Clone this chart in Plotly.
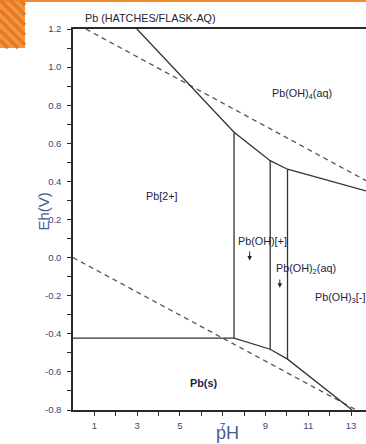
import plotly.graph_objects as go

# ---------------- data ----------------
# upper solid boundary (Pb2+ / Pb(OH)n species vs Pb(OH)4(aq))
upper_ph = [2.99, 7.53, 9.22, 10.03, 13.7]
upper_eh = [1.20, 0.658, 0.509, 0.464, 0.350]
# lower solid boundary (dissolved Pb vs Pb(s))
lower_ph = [0.0, 7.53, 9.22, 10.03, 13.05]
lower_eh = [-0.423, -0.423, -0.481, -0.533, -0.800]
# vertical boundaries between dissolved species
vert_ph = [7.53, 9.22, 10.03]
vert_top = [0.658, 0.509, 0.464]
vert_bot = [-0.423, -0.481, -0.533]
# water stability limits (dashed)
o2_ph = [0.6, 13.7]
o2_eh = [1.20, 0.404]
h2_ph = [0.0, 13.25]
h2_eh = [0.0, -0.80]

# region labels
label_text = ["Pb(OH)<sub>4</sub>(aq)", "Pb[2+]", "Pb(OH)[+]",
              "Pb(OH)<sub>2</sub>(aq)", "Pb(OH)<sub>3</sub>[-]", "<b>Pb(s)</b>"]
label_ph = [10.71, 4.14, 7.64, 9.38, 11.22, 6.08]
label_eh = [0.859, 0.323, 0.087, -0.061, -0.212, -0.658]
label_anchor = ["center", "center", "left", "left", "left", "center"]
# small arrows under labels (tail -> head)
arrow_ph = [8.26, 9.67]
arrow_tail = [0.040, -0.107]
arrow_head = [-0.015, -0.158]

# ticks
x_tick_vals = [1, 3, 5, 7, 9, 11, 13]
x_tick_text = ["1", "3", "5", "7", "9", "11", "13"]
x_minor_vals = [2, 4, 6, 8, 10, 12]
y_tick_vals = [-0.8, -0.6, -0.4, -0.2, 0.0, 0.2, 0.4, 0.6, 0.8, 1.0, 1.2]
y_tick_text = ["-0.8", "-0.6", "-0.4", "-0.2", "0.0", "0.2", "0.4", "0.6", "0.8", "1.0", "1.2"]

title_text = "Pb (HATCHES/FLASK-AQ)"
x_title = "pH"
y_title = "Eh(V)"

# ---------------- figure ----------------
W, H = 366, 444
ML, MR, MT, MB = 73, 0, 29, 34
PW, PH = W - ML - MR, H - MT - MB
FONT = "Liberation Sans, Arial, sans-serif"
LINE = "#333333"
TICKC = "#34467a"

def px2paper(px, py):
    return (px - ML) / PW, (H - MB - py) / PH

fig = go.Figure()

fig.add_trace(go.Scatter(x=o2_ph, y=o2_eh, mode="lines",
                         line=dict(color="#555555", width=1.3, dash="5px,4px"),
                         hoverinfo="skip", showlegend=False))
fig.add_trace(go.Scatter(x=h2_ph, y=h2_eh, mode="lines",
                         line=dict(color="#555555", width=1.3, dash="5px,4px"),
                         hoverinfo="skip", showlegend=False))
fig.add_trace(go.Scatter(x=upper_ph, y=upper_eh, mode="lines",
                         line=dict(color=LINE, width=1.3),
                         hoverinfo="skip", showlegend=False))
fig.add_trace(go.Scatter(x=lower_ph, y=lower_eh, mode="lines",
                         line=dict(color=LINE, width=1.3),
                         hoverinfo="skip", showlegend=False))
for xv, yt, yb in zip(vert_ph, vert_top, vert_bot):
    fig.add_trace(go.Scatter(x=[xv, xv], y=[yt, yb], mode="lines",
                             line=dict(color=LINE, width=1.3),
                             hoverinfo="skip", showlegend=False))

annotations = []
for t, xv, yv, a in zip(label_text, label_ph, label_eh, label_anchor):
    annotations.append(dict(x=xv, y=yv, xref="x", yref="y", text=t, showarrow=False,
                            xanchor=a, yanchor="middle",
                            font=dict(family=FONT, size=10.8, color="#1e2244")))
for xv, yt, yh in zip(arrow_ph, arrow_tail, arrow_head):
    annotations.append(dict(x=xv, y=yh, ax=xv, ay=yt, xref="x", yref="y",
                            axref="x", ayref="y", text="", showarrow=True,
                            arrowhead=2, arrowsize=0.9, arrowwidth=1, arrowcolor="#222222"))

# title and axis titles
tx, ty = px2paper(83, 18)
annotations.append(dict(x=tx, y=ty, xref="paper", yref="paper", text=title_text,
                        showarrow=False, xanchor="left", yanchor="middle",
                        font=dict(family=FONT, size=10.8, color="#222233")))
ex, ey = px2paper(42.5, 212)
annotations.append(dict(x=ex, y=ey, xref="paper", yref="paper", text=y_title,
                        showarrow=False, xanchor="center", yanchor="middle", textangle=-90,
                        font=dict(family=FONT, size=15, color="#4a5c8c")))
phx, phy = px2paper(227, 433)
annotations.append(dict(x=phx, y=phy, xref="paper", yref="paper", text=x_title,
                        showarrow=False, xanchor="center", yanchor="middle",
                        font=dict(family=FONT, size=18, color="#4a5c8c")))

# decorative orange hatched corner and top band
shapes = []
x0, y0 = px2paper(0, 0)
x1, y1 = px2paper(25, 48)
shapes.append(dict(type="rect", xref="paper", yref="paper", x0=x0, x1=x1, y0=y1, y1=y0,
                   fillcolor="#F5943E", line=dict(width=0), layer="above"))
bx0, by0 = px2paper(0, 0)
bx1, by1 = px2paper(W, 2)
shapes.append(dict(type="rect", xref="paper", yref="paper", x0=bx0, x1=bx1, y0=by1, y1=by0,
                   fillcolor="#F0882E", line=dict(width=0), layer="above"))
for c in range(-30, 50, 10):
    pa = max(0, -c)
    pb = min(25, 48 - c)
    if pb <= pa:
        continue
    sx0, sy0 = px2paper(pa, pa + c)
    sx1, sy1 = px2paper(pb, pb + c)
    shapes.append(dict(type="line", xref="paper", yref="paper", x0=sx0, y0=sy0, x1=sx1, y1=sy1,
                       line=dict(color="#E57A26", width=3.5), layer="above"))

fig.update_layout(
    width=W, height=H,
    margin=dict(l=ML, r=MR, t=MT, b=MB, pad=0),
    paper_bgcolor="white", plot_bgcolor="white",
    showlegend=False,
    annotations=annotations,
    shapes=shapes,
    xaxis=dict(range=[0, 13.7], showgrid=False, zeroline=False,
               showline=True, linecolor="#2a2a2a", linewidth=1.5, mirror=True,
               ticks="outside", ticklen=4, tickwidth=1, tickcolor="#2a2a2a",
               tickmode="array", tickvals=x_tick_vals, ticktext=x_tick_text,
               minor=dict(tickmode="array", tickvals=x_minor_vals, ticks="outside",
                          ticklen=4, tickwidth=1, tickcolor="#2a2a2a"),
               tickfont=dict(family=FONT, size=9.5, color=TICKC), ticklabelstandoff=2),
    yaxis=dict(range=[-0.8, 1.2], showgrid=False, zeroline=False,
               showline=True, linecolor="#2a2a2a", linewidth=1.5,
               ticks="outside", ticklen=4, tickwidth=1, tickcolor="#2a2a2a",
               tickmode="array", tickvals=y_tick_vals, ticktext=y_tick_text,
               minor=dict(dtick=0.1, tick0=-0.8, ticks="outside",
                          ticklen=4, tickwidth=1, tickcolor="#2a2a2a"),
               tickfont=dict(family=FONT, size=9.5, color=TICKC), ticklabelstandoff=4),
)

fig.write_html("out.html", config={"displayModeBar": False},
               post_script="document.body.style.margin='0';document.body.style.overflow='hidden';")
